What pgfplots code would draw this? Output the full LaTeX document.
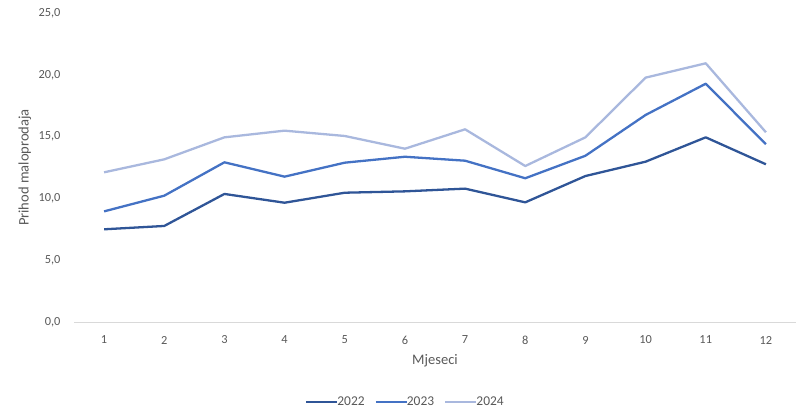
\documentclass[border=0pt]{standalone}
\usepackage{pgfplots}
\pgfplotsset{compat=1.18}
\usepackage{fontspec}
\setmainfont{Carlito}
\definecolor{c22}{HTML}{2F5597}
\definecolor{c23}{HTML}{4472C4}
\definecolor{c24}{HTML}{A9B8DE}
\definecolor{txt}{HTML}{595959}
\definecolor{axl}{HTML}{D9D9D9}
\begin{document}
\begin{tikzpicture}
\useasboundingbox (-74bp,-95bp) rectangle (732bp,322bp);
\begin{axis}[
  scale only axis,
  width=722bp, height=309bp,
  xmin=0.5, xmax=12.5, ymin=0, ymax=25,
  xtick={1,...,12}, ytick={0,5,...,25},
  axis x line*=bottom, axis y line*=left,
  x axis line style={draw=axl, line width=0.8pt, -},
  y axis line style={draw=none},
  major tick length=0pt,
  tick label style={font=\fontsize{12.4}{14}\selectfont, text=txt},
  /pgf/number format/assume math mode=true,
  yticklabel style={anchor=east, xshift=-10bp, /pgf/number format/.cd, fixed, fixed zerofill, precision=1, use comma},
  xticklabel style={anchor=center, yshift=-18bp},
  xlabel={Mjeseci}, ylabel={Prihod maloprodaja},
  every axis x label/.style={at={(axis description cs:0.5,-0.124)}, anchor=center, font=\fontsize{14.6}{16}\selectfont, text=txt},
  every axis y label/.style={at={(axis description cs:-0.068,0.5)}, anchor=center, rotate=90, font=\fontsize{14.6}{16}\selectfont, text=txt},
  legend style={at={(axis description cs:0.459,-0.259)}, anchor=center, draw=none,
    legend columns=3, font=\fontsize{13.5}{15}\selectfont, text=txt,
    /tikz/every even column/.append style={column sep=8bp},
    /tikz/every odd column/.append style={column sep=-3bp}},
  legend image code/.code={\draw[#1] (0bp,0bp) -- (31bp,0bp);},
  line join=round,
]
\addplot[c22, line width=2.3pt] coordinates {(1,7.50) (2,7.77) (3,10.36) (4,9.65) (5,10.46) (6,10.57) (7,10.79) (8,9.68) (9,11.81) (10,12.97) (11,14.94) (12,12.76)};
\addplot[c23, line width=2.3pt] coordinates {(1,8.95) (2,10.22) (3,12.92) (4,11.76) (5,12.89) (6,13.37) (7,13.05) (8,11.63) (9,13.45) (10,16.75) (11,19.28) (12,14.38)};
\addplot[c24, line width=2.3pt] coordinates {(1,12.11) (2,13.16) (3,14.94) (4,15.48) (5,15.05) (6,14.02) (7,15.59) (8,12.62) (9,14.94) (10,19.77) (11,20.93) (12,15.35)};
\legend{2022,2023,2024}
\end{axis}
\end{tikzpicture}
\end{document}
